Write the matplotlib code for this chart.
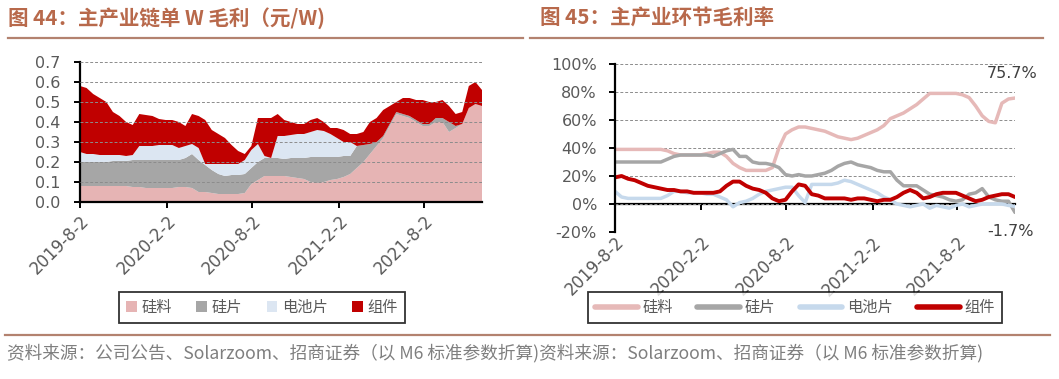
import matplotlib
matplotlib.use('Agg')
import matplotlib.pyplot as plt
from matplotlib.lines import Line2D
import pandas as pd

plt.rcParams['font.family'] = ['DejaVu Sans', 'Noto Sans CJK SC']
plt.rcParams['axes.unicode_minus'] = False

# 双周数据点
dates = pd.date_range('2019-08-02', periods=62, freq='14D')
tick_dates = pd.to_datetime(['2019-08-02', '2020-02-02', '2020-08-02', '2021-02-02', '2021-08-02'])
tick_labels = ['2019-8-2', '2020-2-2', '2020-8-2', '2021-2-2', '2021-8-2']
series_names = ['硅料', '硅片', '电池片', '组件']

# 图44 单W毛利 (元/W)
silicon_w = [.08, .08, .08, .08, .08, .08, .08, .08, .075, .075,
             .07, .07, .07, .07, .07, .075, .075, .07, .05, .05,
             .045, .04, .04, .04, .04, .045, .09, .11, .13, .13,
             .13, .13, .125, .12, .115, .10, .095, .10, .11, .115,
             .125, .14, .17, .20, .24, .28, .32, .38, .44, .43,
             .42, .40, .38, .38, .40, .40, .35, .37, .39, .47,
             .49, .48]
wafer_w = [.12, .12, .12, .12, .12, .125, .125, .125, .135, .135,
           .14, .14, .14, .14, .14, .135, .145, .17, .16, .135,
           .115, .10, .09, .095, .095, .095, .08, .09, .09, .09,
           .09, .085, .095, .10, .105, .125, .13, .125, .115, .11,
           .105, .09, .11, .085, .05, .02, .01, .01, .01, .01,
           .01, .01, .01, .01, .02, .02, .05, .01, 0, 0,
           0, 0]
cell_w = [.05, .04, .04, .035, .035, .03, .03, .025, .025, .07,
          .07, .07, .075, .075, .075, .06, .06, .05, .06, .005,
          .03, .05, .06, .055, .055, .07, .09, .09, .01, 0,
          .11, .115, .115, .12, .12, .125, .135, .13, .115, .095,
          .07, .07, 0, 0, 0, 0, 0, 0, 0, 0,
          0, 0, 0, 0, 0, 0, 0, 0, 0, 0,
          0, 0]
module_w = [.33, .33, .30, .285, .265, .215, .195, .17, .15, .16,
            .155, .15, .13, .125, .125, .13, .10, .15, .16, .22,
            .17, .15, .13, .095, .065, .03, .02, .13, .19, .20,
            .11, .08, .065, .05, .05, .06, .06, .045, .03, .05,
            .06, .04, .06, .065, .11, .12, .13, .09, .05, .08,
            .09, .10, .12, .11, .08, .09, .08, .06, .06, .11,
            .11, .08]

# 图45 毛利率 (%)
silicon_pct = [39, 39, 39, 39, 39, 39, 39, 39, 38, 36,
               35, 35, 35, 35, 36, 37, 37, 34, 29, 26,
               24, 24, 24, 24, 26, 40, 50, 53, 55, 55,
               54, 53, 52, 50, 48, 47, 46, 47, 49, 51,
               53, 56, 61, 63, 65, 68, 71, 75, 79, 79,
               79, 79, 79, 78, 76, 70, 63, 59, 58, 72,
               75, 75.7]
wafer_pct = [30, 30, 30, 30, 30, 30, 30, 30, 32, 34,
             35, 35, 35, 35, 35, 34, 36, 38, 39, 34,
             34, 30, 29, 29, 28, 26, 21, 20, 21, 20,
             20, 21, 22, 24, 27, 29, 30, 28, 27, 26,
             24, 23, 23, 17, 13, 13, 13, 10, 7, 6,
             5, 3, 2, 3, 7, 8, 11, 5, 3, 2,
             2, -6]
cell_pct = [9, 5, 4, 4, 4, 4, 4, 4, 6, 9,
            9, 8, 8, 8, 7, 7, 5, 3, -2, 1,
            2, 4, 7, 9, 10, 11, 12, 12, 6, 1,
            14, 14, 14, 14, 15, 17, 16, 14, 12, 10,
            8, 5, 3, 0, -1, -2, -1, 0, -3, -1,
            -2, -3, -1, 0, -2, -1, 0, 0, 0, 0,
            -1, -1.7]
module_pct = [19, 20, 18, 17, 15, 13, 12, 11, 10, 10,
              9, 9, 8, 8, 8, 8, 9, 13, 16, 16,
              13, 11, 10, 8, 4, 2, 3, 9, 14, 13,
              7, 6, 4, 4, 4, 4, 3, 4, 4, 3,
              2, 3, 3, 5, 8, 10, 8, 4, 5, 7,
              8, 8, 8, 6, 4, 2, 3, 5, 6, 7,
              7, 5]

area_colors = ['#e6b4b4', '#a6a6a6', '#dce6f2', '#c00000']
line_colors = ['#e6b9b8', '#a6a6a6', '#c6d9ec', '#c00000']
tick_color = '#595959'
title_color = '#b8694b'
rule_color = '#b3826f'

W, H = 1059, 379
fig = plt.figure(figsize=(W / 100, H / 100), dpi=100)

# 标题与分隔线
fig.text(8 / W, 1 - 18 / H, '图 44：主产业链单 W 毛利（元/W)', ha='left', va='center',
         fontsize=14.8, fontweight='bold', color=title_color, family=['Noto Sans CJK SC'])
fig.text(540 / W, 1 - 18 / H, '图 45：主产业环节毛利率', ha='left', va='center',
         fontsize=14.8, fontweight='bold', color=title_color, family=['Noto Sans CJK SC'])
fig.add_artist(Line2D([8 / W, 523 / W], [1 - 38 / H] * 2, color=rule_color, lw=1.6))
fig.add_artist(Line2D([530 / W, 1043 / W], [1 - 38 / H] * 2, color=rule_color, lw=1.6))
fig.add_artist(Line2D([5 / W, 1050 / W], [1 - 335 / H] * 2, color=rule_color, lw=1.6))
fig.text(7 / W, 1 - 353 / H,
         '资料来源：公司公告、Solarzoom、招商证券（以 M6 标准参数折算)资料来源：Solarzoom、招商证券（以 M6 标准参数折算)',
         ha='left', va='center', fontsize=12.7, color='#7f7f7f', family=['Noto Sans CJK SC'])

# ---- 图44 堆积面积 ----
ax1 = fig.add_axes([80 / W, 1 - 202 / H, 402 / W, 140 / H])
ax1.stackplot(dates, silicon_w, wafer_w, cell_w, module_w, colors=area_colors,
              labels=series_names, linewidth=0)
ax1.set_xlim(dates[0], dates[-1])
ax1.set_ylim(0, 0.7)
ax1.set_yticks([i / 10 for i in range(8)])
ax1.set_yticklabels([f'{i / 10:.1f}' for i in range(8)])
ax1.set_xticks(tick_dates)
ax1.set_xticklabels(tick_labels, rotation=45, ha='right', va='top', rotation_mode='anchor')
ax1.yaxis.grid(True, color='#8c8c8c', linestyle=(0, (3, 2)), linewidth=0.7)
ax1.set_axisbelow(False)
for s in ['top', 'right']:
    ax1.spines[s].set_visible(False)
for s in ['left', 'bottom']:
    ax1.spines[s].set_linewidth(1.6)
ax1.tick_params(axis='both', colors='black', labelcolor=tick_color, labelsize=11.5,
                length=4, width=1.4)
ax1.tick_params(axis='x', labelsize=12, pad=3)
ax1.tick_params(axis='y', pad=10)
leg1 = ax1.legend(loc='center', bbox_to_anchor=(262 / W, 1 - 307.5 / H),
                  bbox_transform=fig.transFigure, ncol=4, frameon=True, fancybox=False,
                  edgecolor='black', handlelength=0.7, handleheight=0.7,
                  handletextpad=0.3, columnspacing=1.6, borderpad=0.45,
                  labelcolor=tick_color, prop={'family': 'Noto Sans CJK SC', 'size': 11})
leg1.get_frame().set_linewidth(1.3)

# ---- 图45 毛利率折线 ----
ax2 = fig.add_axes([615 / W, 1 - 232 / H, 400 / W, 168 / H])
for vals, c, name in zip([silicon_pct, wafer_pct, cell_pct, module_pct], line_colors, series_names):
    lw = 2.8 if name == '组件' else 2.5
    ax2.plot(dates, vals, color=c, lw=lw, label=name, solid_capstyle='round')
ax2.set_xlim(dates[0], dates[-1])
ax2.set_ylim(-20, 100)
ax2.set_yticks(range(-20, 101, 20))
ax2.set_yticklabels([f'{v}%' for v in range(-20, 101, 20)])
ax2.set_xticks(tick_dates)
ax2.set_xticklabels(tick_labels, rotation=45, ha='right', va='top', rotation_mode='anchor')
ax2.yaxis.grid(True, color='#8c8c8c', linestyle=(0, (3, 2)), linewidth=0.7)
for s in ['top', 'right', 'bottom']:
    ax2.spines[s].set_visible(False)
ax2.spines['left'].set_linewidth(1.6)
ax2.tick_params(axis='y', colors='black', labelcolor=tick_color, labelsize=11.5,
                length=4, width=1.4, pad=9)
ax2.tick_params(axis='x', length=0, labelcolor=tick_color, labelsize=12, pad=1)
zero_axis = ax2.secondary_xaxis(20 / 120)
zero_axis.set_xticks(tick_dates)
zero_axis.set_xticklabels([])
zero_axis.spines['bottom'].set_linewidth(1.6)
zero_axis.tick_params(direction='out', length=4, width=1.4, colors='black')
ax2.text(0.93, 0.946, '75.7%', transform=ax2.transAxes, ha='left', va='center',
         fontsize=11.5, color='#404040')
ax2.text(0.93, 0.0, '-1.7%', transform=ax2.transAxes, ha='left', va='center',
         fontsize=11.5, color='#404040')
leg2 = ax2.legend(loc='center', bbox_to_anchor=(795 / W, 1 - 307.5 / H),
                  bbox_transform=fig.transFigure, ncol=4, frameon=True, fancybox=False,
                  edgecolor='black', handlelength=2.8, handletextpad=0.3,
                  columnspacing=1.6, borderpad=0.45, labelcolor=tick_color,
                  prop={'family': 'Noto Sans CJK SC', 'size': 11})
leg2.get_frame().set_linewidth(1.3)
for h in leg2.get_lines():
    h.set_linewidth(4)

fig.savefig('out.png', dpi=100)
